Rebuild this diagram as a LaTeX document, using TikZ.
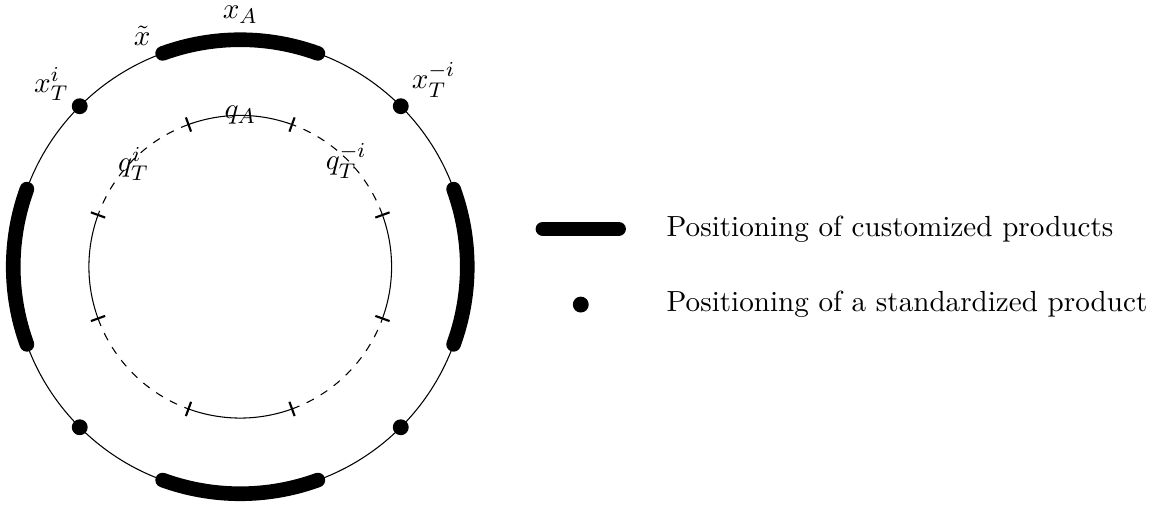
\documentclass[tikz,border=0pt,11pt]{standalone}
\usepackage{amsmath,amssymb}
\usepackage{tikz}
\usetikzlibrary{positioning,calc}

\tikzset{
  custprod/.style={line width=5.5pt,line cap=round},
  stdprod/.style={circle,fill=black,inner sep=0pt,minimum size=0.21cm},
  tickmark/.style={line width=0.8pt},
}

\begin{document}
\begin{tikzpicture}
\useasboundingbox (-3.175,-3.175) rectangle (12.115,3.525);
\coordinate (O) at (0,0);
% outer circle: positions of products
\draw (O) circle[radius=3];
\foreach \a in {0,90,180,270} {
 \draw[custprod] ({\a-20}:3) arc[start angle=\a-20,end angle=\a+20,radius=3];
}
\foreach \a/\n in {45/xTmi,135/xTi,225/xTc,315/xTd} {
 \node[stdprod] (\n) at (\a:3) {};
}
\node[inner sep=1pt] (xA) at (0,3.33) {$x_A$};
\node[inner sep=1pt] (xtil) at (113:3.32) {$\tilde{x}$};
\node[inner sep=1pt] (lxTi) at (136:3.47) {$x_T^i$};
\node[inner sep=1pt] (lxTmi) at (44:3.55) {$x_T^{-i}$};
% inner circle: quantities
\foreach \a in {0,90,180,270} {
 \draw ({\a-20}:2) arc[start angle=\a-20,end angle=\a+20,radius=2];
 \draw[dashed] ({\a+20}:2) arc[start angle=\a+20,end angle=\a+70,radius=2];
 \draw[tickmark] ({\a-20}:1.9) -- ({\a-20}:2.1);
 \draw[tickmark] ({\a+20}:1.9) -- ({\a+20}:2.1);
}
\node[inner sep=1pt] (qA) at (90:2) {$q_A$};
\node[inner sep=1pt] (qTi) at (136:1.96) {$q_T^i$};
\node[inner sep=1pt] (qTmi) at (45:1.98) {$q_T^{-i}$};
% legend
\coordinate (lgA) at (4,0.5);
\coordinate (lgB) at (5,0.5);
\draw[custprod] (lgA) -- (lgB);
\node[anchor=west] (lgcust) at (5.5,0.5) {Positioning of customized products};
\node[stdprod] (lgdot) at (4.5,-0.5) {};
\node[anchor=west] (lgstd) at (5.5,-0.5) {Positioning of a standardized product};
\end{tikzpicture}
\end{document}
